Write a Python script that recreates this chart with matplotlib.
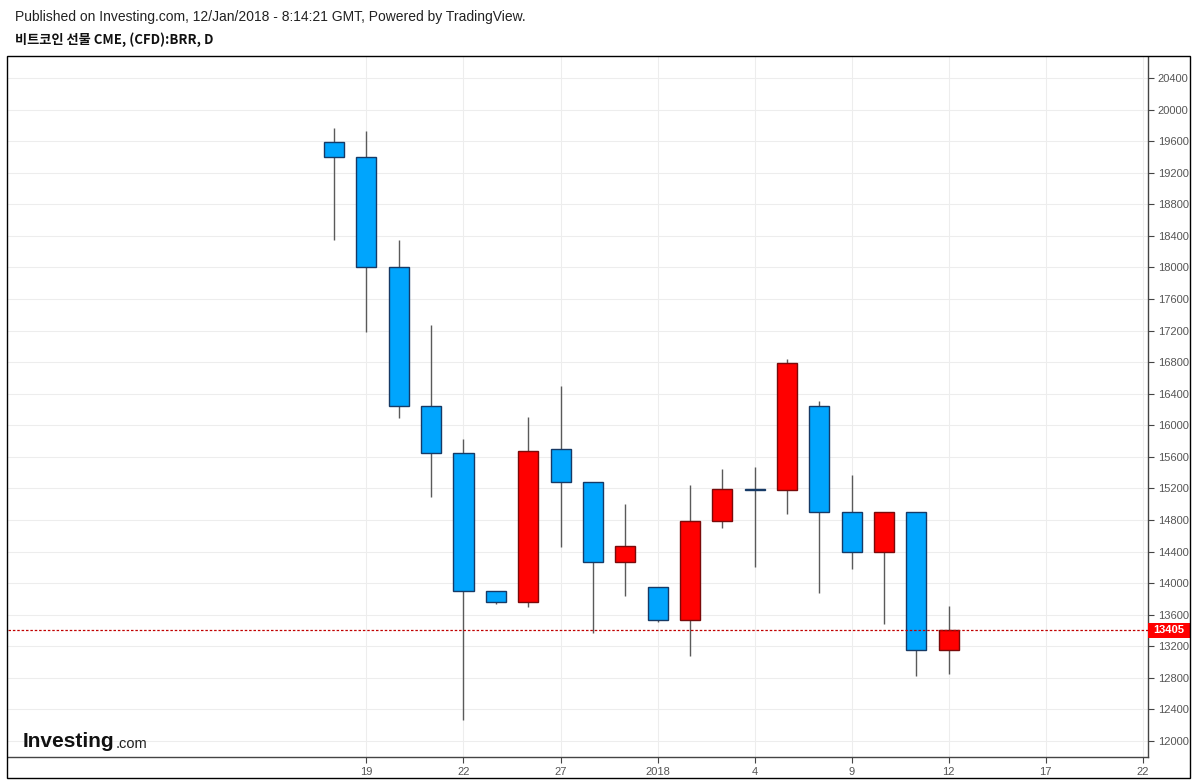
import matplotlib

matplotlib.use("Agg")
import matplotlib.pyplot as plt  # noqa: E402
import matplotlib.transforms as mtransforms  # noqa: E402
import pandas as pd  # noqa: E402

# daily OHLC, CME bitcoin futures (BRR)
DATES = pd.bdate_range("2017-12-18", "2018-01-12")
OPENS = [19585, 19395, 18002, 16244, 15644, 13897, 13757, 15694, 15276, 14264,
         13946, 13533, 14783, 15185, 15176, 16240, 14905, 14390, 14905, 13149]
HIGHS = [19763, 19733, 18348, 17267, 15826, 13897, 16101, 16498, 15276, 15003,
         13946, 15244, 15443, 15472, 16836, 16307, 15374, 14905, 14905, 13714]
LOWS = [18348, 17186, 16096, 15091, 12266, 13736, 13702, 14462, 13364, 13841,
        13504, 13081, 14702, 14208, 14872, 13879, 14179, 13482, 12827, 12844]
CLOSES = [19395, 18002, 16244, 15649, 13897, 13757, 15668, 15276, 14264, 14471,
          13533, 14783, 15187, 15180, 16785, 14905, 14390, 14905, 13149, 13405]
LAST_PRICE = 13405

AXIS_DATES = pd.bdate_range("2017-12-18", "2018-01-22")
TICK_DATES = ["2017-12-19", "2017-12-22", "2017-12-27", "2018-01-01", "2018-01-04",
              "2018-01-09", "2018-01-12", "2018-01-17", "2018-01-22"]
Y_TICKS = list(range(12000, 20401, 400))

UP, UP_EDGE = "#ff0000", "#7a0a0a"
DOWN, DOWN_EDGE = "#00a5fd", "#163a66"
GRID = "#ededed"
TXT = "#555555"
FONT = ["Liberation Sans", "DejaVu Sans"]

W, H = 1197, 780
fig = plt.figure(figsize=(W / 100, H / 100), dpi=100)
ax = fig.add_axes([8 / W, 1 - 757 / H, (1148 - 8) / W, (757 - 57) / H])

pos = {d: i for i, d in enumerate(AXIS_DATES)}
xs = [pos[d] for d in DATES]

for x, o, h, l, c in zip(xs, OPENS, HIGHS, LOWS, CLOSES):
    up = c > o
    ax.vlines(x, l, h, color="#5a5a5a", lw=1, zorder=2)
    lo, hi = min(o, c), max(o, c)
    ax.bar(x, max(hi - lo, 8), bottom=lo, width=0.62,
           color=UP if up else DOWN, edgecolor=UP_EDGE if up else DOWN_EDGE,
           lw=1, zorder=3)

# last price line and label on the price scale
ax.axhline(LAST_PRICE, color="#c00000", lw=0.9, ls=(0, (2, 1.5)), zorder=4)
trans = mtransforms.blended_transform_factory(ax.transAxes, ax.transData)
px = 1 / 1140          # one pixel in axes fraction
py = 8869 / 700        # one pixel in price units
ax.add_patch(plt.Rectangle((1.0, LAST_PRICE - 7.5 * py), 42 * px, 15 * py,
                           transform=trans, fc="#ff0000", ec="none",
                           clip_on=False, zorder=6))
ax.text(1.0 + 21 * px, LAST_PRICE, str(LAST_PRICE), transform=trans, ha="center",
        va="center", fontsize=8, fontweight="bold", color="white", zorder=7,
        clip_on=False, family=FONT)

xt = [pos[pd.Timestamp(d)] for d in TICK_DATES]
xl = [str(pd.Timestamp(d).year) if pd.Timestamp(d).dayofyear == 1 else str(pd.Timestamp(d).day)
      for d in TICK_DATES]
ax.set_xticks(xt)
ax.set_xticklabels(xl)
ax.set_yticks(Y_TICKS)
ax.yaxis.tick_right()
ax.set_xlim(-10.08, 25.16)
ax.set_ylim(11797, 20666)
ax.grid(True, color=GRID, lw=0.8, zorder=0)
ax.set_axisbelow(True)
ax.tick_params(axis="both", colors="#444444", labelcolor=TXT, labelsize=8,
               length=4, width=0.8, pad=3)
for lab in ax.get_xticklabels() + ax.get_yticklabels():
    lab.set_family(FONT)
for s in ("top", "left"):
    ax.spines[s].set_visible(False)
for s in ("bottom", "right"):
    ax.spines[s].set_color("#444444")
    ax.spines[s].set_linewidth(1)

# outer frame
fig.patches.append(plt.Rectangle((7 / W, 1 - 778 / H), (1190 - 7) / W, (778 - 56) / H,
                                 transform=fig.transFigure, fill=False, ec="black", lw=1))

fig.text(15 / W, 1 - 17 / H,
         "Published on Investing.com, 12/Jan/2018 - 8:14:21 GMT, Powered by TradingView.",
         fontsize=10, color="#222222", va="center", family=FONT)
fig.text(15 / W, 1 - 40 / H, "비트코인 선물 CME, (CFD):BRR, D", fontsize=9.5,
         fontweight="bold", color="#111111", va="center",
         family=["Noto Sans CJK KR", "DejaVu Sans"])

# watermark logo
logo = fig.text(23 / W, 1 - 747 / H, "Investing", fontsize=15, fontweight="bold",
                color="#111111", va="baseline", family=FONT)
ax.annotate(".com", xy=(1, 0), xycoords=logo, xytext=(0.5, 0), textcoords="offset points",
            va="bottom", ha="left", fontsize=10.5, color="#222222", family=FONT,
            annotation_clip=False)

fig.savefig("out.png", dpi=100)
